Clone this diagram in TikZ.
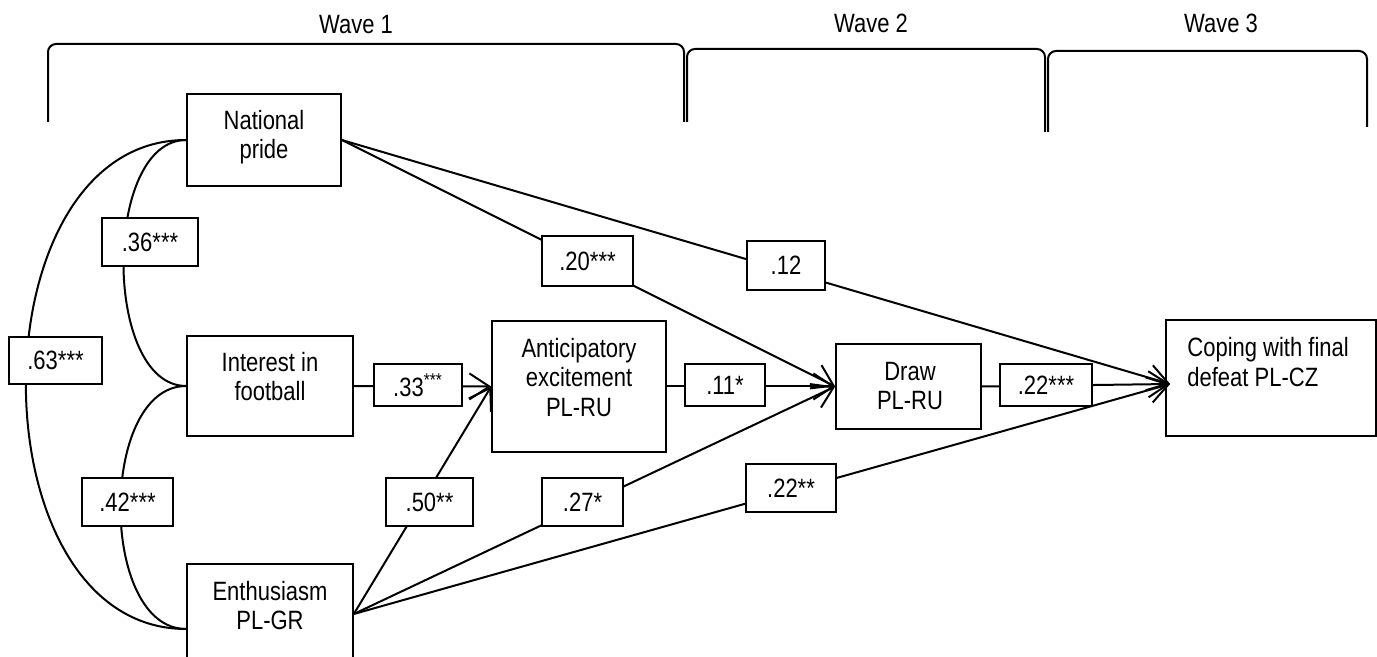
\documentclass[tikz,border=0pt]{standalone}
\usepackage{fontspec}
\setmainfont{Liberation Sans}[FakeStretch=0.83]
\usetikzlibrary{arrows.meta,calc}
\newcommand\diagfont{\fontsize{13.25pt}{14.6pt}\selectfont}
\begin{document}
\begin{tikzpicture}[x=0.5pt,y=-0.5pt,
  box/.style={draw, line width=0.8pt, inner sep=0pt},
  txt/.style={inner sep=0pt, font=\diagfont, align=center},
  lab/.style={draw, fill=white, line width=0.8pt, inner sep=0pt, font=\diagfont},
  conn/.style={line width=1pt},
  arr/.style={line width=1pt, -{Straight Barb[length=10pt,width=13pt]}},
  wavebrace/.style={line width=1pt, rounded corners=4pt}]
\useasboundingbox (0,0) rectangle (1377,657);
\clip (0,0) rectangle (1377,657);

% braces for waves
\draw[wavebrace] (48,122) -- (48,44) -- (684,44) -- (684,122);
\draw[wavebrace] (687,122) -- (687,49) -- (1045,49) -- (1045,132);
\draw[wavebrace] (1048,132) -- (1048,51) -- (1367,51) -- (1367,127);
\node[txt] (w1) at (356,25) {Wave 1};
\node[txt] (w2) at (871,23) {Wave 2};
\node[txt] (w3) at (1221,23) {Wave 3};

% boxes
\node[box, minimum width=77pt, minimum height=46pt] (np) at (264,140) {};
\node[box, minimum width=83pt, minimum height=50pt] (if) at (270,386) {};
\node[box, minimum width=83pt, minimum height=50pt] (en) at (270,614) {};
\node[box, minimum width=87pt, minimum height=65.5pt] (ae) at (579,386.5) {};
\node[box, minimum width=72.5pt, minimum height=42.5pt] (dr) at (908.5,386.5) {};
\node[box, minimum width=105pt, minimum height=58pt] (cp) at (1271,378) {};

% box texts
\node[txt] (npt) at (264,137) {National\\pride};
\node[txt] (ift) at (270,376.5) {Interest in\\football};
\node[txt] (ent) at (270,605.5) {Enthusiasm\\PL-GR};
\node[txt] (aet) at (579,377.5) {Anticipatory\\excitement\\PL-RU};
\node[txt] (drt) at (910,386) {Draw\\PL-RU};
\node[txt, align=left, anchor=west] (cpt) at (1187,362) {Coping with final\\defeat PL-CZ};

% correlations
\draw[conn] (np.west) to[out=180,in=180,looseness=0.872] (if.west);
\draw[conn] (np.west) to[out=180,in=180,looseness=1.121] ($(en.west)+(0,15)$);
\draw[conn] (if.west) to[out=180,in=180,looseness=0.925] ($(en.west)+(0,15)$);

% paths
\draw[arr] (if.east) -- (ae.west);
\draw[arr] (en.east) -- (ae.west);
\draw[arr] (ae.east) -- (dr.west);
\draw[arr] (np.east) -- (dr.west);
\draw[arr] (en.east) -- (dr.west);
\draw[arr] (dr.east) -- ($(cp.west)+(5,6)$);
\draw[arr] (np.east) -- ($(cp.west)+(5,6)$);
\draw[arr] (en.east) -- ($(cp.west)+(5,6)$);

% labels
\node[lab, minimum width=48pt, minimum height=24pt] (l36) at (150,242) {.36***};
\node[lab, minimum width=46.5pt, minimum height=23.5pt] (l63) at (55.5,360.5) {.63***};
\node[lab, minimum width=45.5pt, minimum height=24pt] (l42) at (127.5,502) {.42***};
\node[lab, minimum width=44pt, minimum height=21pt] (l33) at (418,385) {.33\textsuperscript{***}};
\node[lab, minimum width=40pt, minimum height=21pt] (l11) at (725,385) {.11*};
\node[lab, minimum width=46pt, minimum height=21pt] (l22a) at (1046,385) {.22***};
\node[lab, minimum width=45.5pt, minimum height=25pt] (l20) at (587.5,261) {.20***};
\node[lab, minimum width=39pt, minimum height=24.5pt] (l12) at (786,265.5) {.12};
\node[lab, minimum width=43.5pt, minimum height=24pt] (l50) at (429.5,502) {.50**};
\node[lab, minimum width=40.5pt, minimum height=24pt] (l27) at (582.5,502) {.27*};
\node[lab, minimum width=45pt, minimum height=24pt] (l22b) at (791,488) {.22**};
\end{tikzpicture}
\end{document}
